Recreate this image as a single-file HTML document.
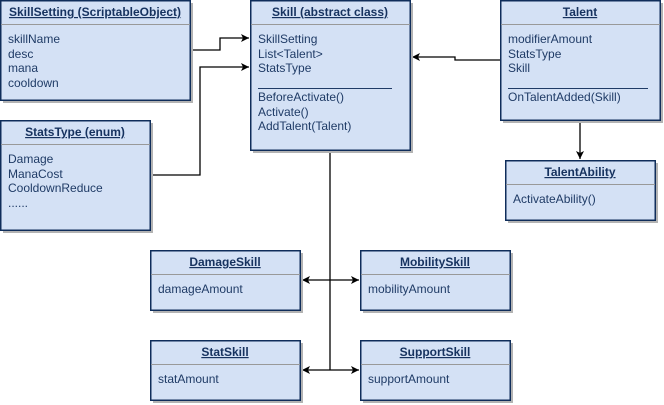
<!DOCTYPE html>
<html><head><meta charset="utf-8"><style>
html,body{margin:0;padding:0;background:#fff;width:664px;height:405px;overflow:hidden}
svg{display:block;font-family:"Liberation Sans",Arial,sans-serif}
.b{fill:#d4e1f5;stroke:#0f2d5a;stroke-width:1.5}
.s{fill:#b3b3b3}
.d{stroke:#999;stroke-width:1}
.h{font-size:12px;font-weight:bold;fill:#16325f;text-decoration:underline;text-anchor:middle}
.t{font-size:12px;fill:#1f3b66}
.l{fill:none;stroke:#000;stroke-width:1.3}
.u{stroke:#1f3b66;stroke-width:1}
</style></head><body>
<svg width="664" height="405" viewBox="0 0 664 405">
<defs>
<marker id="a" markerWidth="10" markerHeight="10" refX="8" refY="4" orient="auto" markerUnits="userSpaceOnUse">
<path d="M0,0 L8,4 L0,8 L2,4 z" fill="#000"/></marker>
<marker id="as" markerWidth="10" markerHeight="10" refX="0" refY="4" orient="auto" markerUnits="userSpaceOnUse">
<path d="M8,0 L0,4 L8,8 L6,4 z" fill="#000"/></marker>
</defs>

<path class="l" d="M190,50 H220 V38 H249" marker-end="url(#a)"/>
<path class="l" d="M150,175 H200 V67 H249" marker-end="url(#a)"/>
<path class="l" d="M500,60 H455 V57 H412" marker-end="url(#a)"/>
<path class="l" d="M580,120 V159" marker-end="url(#a)"/>
<path class="l" d="M330,150 V370"/>
<path class="l" d="M302,280 H359" marker-start="url(#as)" marker-end="url(#a)"/>
<path class="l" d="M302,370 H359" marker-start="url(#as)" marker-end="url(#a)"/>

<rect class="s" x="3" y="3" width="190" height="100"/>
<rect class="b" x="0.75" y="0.75" width="189.5" height="99.5"/>
<line class="d" x1="1" y1="24.5" x2="190" y2="24.5"/>
<text class="h" x="95" y="16">SkillSetting (ScriptableObject)</text>
<text class="t" x="8" y="43">skillName</text>
<text class="t" x="8" y="58">desc</text>
<text class="t" x="8" y="72">mana</text>
<text class="t" x="8" y="87">cooldown</text>

<rect class="s" x="253" y="3" width="160" height="150"/>
<rect class="b" x="250.75" y="0.75" width="159.5" height="149.5"/>
<line class="d" x1="251" y1="24.5" x2="410" y2="24.5"/>
<text class="h" x="330" y="16">Skill (abstract class)</text>
<text class="t" x="258" y="43">SkillSetting</text>
<text class="t" x="258" y="58">List&lt;Talent&gt;</text>
<text class="t" x="258" y="72">StatsType</text>
<line class="u" x1="258" y1="88.5" x2="392" y2="88.5"/>
<text class="t" x="258" y="101">BeforeActivate()</text>
<text class="t" x="258" y="116">Activate()</text>
<text class="t" x="258" y="130">AddTalent(Talent)</text>

<rect class="s" x="503" y="3" width="160" height="120"/>
<rect class="b" x="500.75" y="0.75" width="159.5" height="119.5"/>
<line class="d" x1="501" y1="24.5" x2="660" y2="24.5"/>
<text class="h" x="580" y="16">Talent</text>
<text class="t" x="508" y="43">modifierAmount</text>
<text class="t" x="508" y="58">StatsType</text>
<text class="t" x="508" y="72">Skill</text>
<line class="u" x1="508" y1="88.5" x2="648" y2="88.5"/>
<text class="t" x="508" y="101">OnTalentAdded(Skill)</text>

<rect class="s" x="3" y="123" width="150" height="110"/>
<rect class="b" x="0.75" y="120.75" width="149.5" height="109.5"/>
<line class="d" x1="1" y1="144.5" x2="150" y2="144.5"/>
<text class="h" x="75" y="136">StatsType (enum)</text>
<text class="t" x="8" y="163">Damage</text>
<text class="t" x="8" y="178">ManaCost</text>
<text class="t" x="8" y="192">CooldownReduce</text>
<text class="t" x="8" y="207">......</text>

<rect class="s" x="508" y="163" width="150" height="60"/>
<rect class="b" x="505.75" y="160.75" width="149.5" height="59.5"/>
<line class="d" x1="506" y1="184.5" x2="655" y2="184.5"/>
<text class="h" x="580" y="176">TalentAbility</text>
<text class="t" x="513" y="203">ActivateAbility()</text>

<rect class="s" x="153" y="253" width="150" height="60"/>
<rect class="b" x="150.75" y="250.75" width="149.5" height="59.5"/>
<line class="d" x1="151" y1="274.5" x2="300" y2="274.5"/>
<text class="h" x="225" y="266">DamageSkill</text>
<text class="t" x="158" y="293">damageAmount</text>

<rect class="s" x="363" y="253" width="150" height="60"/>
<rect class="b" x="360.75" y="250.75" width="149.5" height="59.5"/>
<line class="d" x1="361" y1="274.5" x2="510" y2="274.5"/>
<text class="h" x="435" y="266">MobilitySkill</text>
<text class="t" x="368" y="293">mobilityAmount</text>

<rect class="s" x="153" y="343" width="150" height="60"/>
<rect class="b" x="150.75" y="340.75" width="149.5" height="59.5"/>
<line class="d" x1="151" y1="364.5" x2="300" y2="364.5"/>
<text class="h" x="225" y="356">StatSkill</text>
<text class="t" x="158" y="383">statAmount</text>

<rect class="s" x="363" y="343" width="150" height="60"/>
<rect class="b" x="360.75" y="340.75" width="149.5" height="59.5"/>
<line class="d" x1="361" y1="364.5" x2="510" y2="364.5"/>
<text class="h" x="435" y="356">SupportSkill</text>
<text class="t" x="368" y="383">supportAmount</text>
</svg>
</body></html>
